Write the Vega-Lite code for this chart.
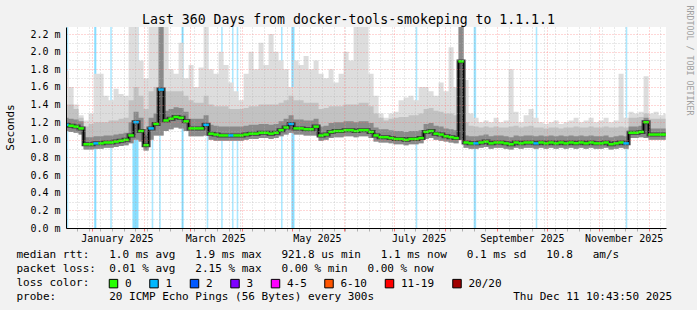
{
"$schema":"https://vega.github.io/schema/vega-lite/v6.json",
"width":600,"height":201,
"autosize":{"type":"none"},
"padding":{"left":66,"top":27,"right":31,"bottom":82},
"background":"#f2f2f2",
"config":{"view":{"stroke":null,"fill":"white"},"font":"DejaVu Sans Mono"},
"datasets":{
"loss":[{"t":"2024-12-17T08:00:00"},{"t":"2025-01-02T18:00:00"},{"t":"2025-01-03T06:00:00"},{"t":"2025-01-12T11:00:00"},{"t":"2025-01-25T16:00:00"},{"t":"2025-01-26T06:00:00"},{"t":"2025-01-26T20:00:00"},{"t":"2025-01-27T10:00:00"},{"t":"2025-01-28T00:00:00"},{"t":"2025-01-28T14:00:00"},{"t":"2025-02-06T08:00:00"},{"t":"2025-02-10T20:00:00"},{"t":"2025-02-24T04:00:00"},{"t":"2025-02-24T16:00:00"},{"t":"2025-03-11T08:00:00"},{"t":"2025-03-20T00:00:00"},{"t":"2025-03-26T12:00:00"},{"t":"2025-03-29T08:00:00"},{"t":"2025-04-24T22:00:00"},{"t":"2025-05-01T00:00:00"},{"t":"2025-05-01T14:00:00"},{"t":"2025-05-02T04:00:00"},{"t":"2025-07-14T18:00:00"},{"t":"2025-08-18T12:00:00"},{"t":"2025-08-19T02:00:00"},{"t":"2025-09-24T18:00:00"},{"t":"2025-11-17T18:00:00"}],
"smoke":[
{"t":"2024-12-16T12:00:00","lo":1.1,"m":1.17,"b":1.25,"c":1.4,"hi":1.78,"loss":"1"},
{"t":"2024-12-19T12:00:00","lo":1.09,"m":1.16,"b":1.24,"c":1.4,"hi":1.6,"loss":"0"},
{"t":"2024-12-22T12:00:00","lo":1.08,"m":1.15,"b":1.23,"c":1.35,"hi":1.4,"loss":"0"},
{"t":"2024-12-25T12:00:00","lo":1.06,"m":1.13,"b":1.21,"c":1.25,"hi":1.28,"loss":"0"},
{"t":"2024-12-28T12:00:00","lo":0.89,"m":0.95,"b":1.03,"c":1.15,"hi":1.22,"loss":"0"},
{"t":"2024-12-31T12:00:00","lo":0.89,"m":0.95,"b":1.03,"c":1.18,"hi":1.3,"loss":"0"},
{"t":"2025-01-03T12:00:00","lo":0.9,"m":0.96,"b":1.04,"c":1.2,"hi":1.75,"loss":"1"},
{"t":"2025-01-06T12:00:00","lo":0.9,"m":0.96,"b":1.04,"c":1.2,"hi":1.75,"loss":"0"},
{"t":"2025-01-09T12:00:00","lo":0.91,"m":0.97,"b":1.05,"c":1.2,"hi":1.5,"loss":"0"},
{"t":"2025-01-12T12:00:00","lo":0.91,"m":0.97,"b":1.05,"c":1.22,"hi":1.45,"loss":"0"},
{"t":"2025-01-15T12:00:00","lo":0.92,"m":0.98,"b":1.06,"c":1.22,"hi":1.58,"loss":"0"},
{"t":"2025-01-18T12:00:00","lo":0.93,"m":0.99,"b":1.07,"c":1.24,"hi":1.52,"loss":"0"},
{"t":"2025-01-21T12:00:00","lo":0.94,"m":1.0,"b":1.08,"c":1.25,"hi":1.5,"loss":"0"},
{"t":"2025-01-24T12:00:00","lo":0.96,"m":1.05,"b":1.2,"c":1.45,"hi":2.28,"loss":"0"},
{"t":"2025-01-27T12:00:00","lo":1.0,"m":1.2,"b":1.32,"c":1.6,"hi":2.28,"loss":"1"},
{"t":"2025-01-30T12:00:00","lo":0.98,"m":1.1,"b":1.25,"c":1.5,"hi":1.9,"loss":"0"},
{"t":"2025-02-02T12:00:00","lo":0.88,"m":0.94,"b":1.05,"c":1.35,"hi":1.7,"loss":"0"},
{"t":"2025-02-05T12:00:00","lo":1.0,"m":1.13,"b":1.25,"c":1.55,"hi":2.28,"loss":"1"},
{"t":"2025-02-08T12:00:00","lo":1.05,"m":1.18,"b":1.3,"c":1.6,"hi":2.28,"loss":"0"},
{"t":"2025-02-11T12:00:00","lo":1.05,"m":1.57,"b":2.28,"c":2.28,"hi":2.28,"loss":"1"},
{"t":"2025-02-14T12:00:00","lo":1.1,"m":1.22,"b":1.33,"c":1.55,"hi":2.28,"loss":"0"},
{"t":"2025-02-17T12:00:00","lo":1.12,"m":1.24,"b":1.35,"c":1.55,"hi":1.8,"loss":"0"},
{"t":"2025-02-20T12:00:00","lo":1.14,"m":1.26,"b":1.37,"c":1.55,"hi":1.75,"loss":"0"},
{"t":"2025-02-23T12:00:00","lo":1.13,"m":1.25,"b":1.36,"c":1.55,"hi":2.1,"loss":"0"},
{"t":"2025-02-26T12:00:00","lo":1.1,"m":1.21,"b":1.32,"c":1.5,"hi":1.7,"loss":"0"},
{"t":"2025-03-01T12:00:00","lo":1.04,"m":1.13,"b":1.24,"c":1.45,"hi":1.85,"loss":"0"},
{"t":"2025-03-04T12:00:00","lo":1.04,"m":1.13,"b":1.24,"c":1.42,"hi":1.6,"loss":"0"},
{"t":"2025-03-07T12:00:00","lo":1.04,"m":1.13,"b":1.24,"c":1.42,"hi":1.82,"loss":"0"},
{"t":"2025-03-10T12:00:00","lo":1.05,"m":1.17,"b":1.28,"c":1.5,"hi":2.28,"loss":"1"},
{"t":"2025-03-13T12:00:00","lo":1.0,"m":1.07,"b":1.17,"c":1.4,"hi":1.8,"loss":"0"},
{"t":"2025-03-16T12:00:00","lo":0.99,"m":1.06,"b":1.16,"c":1.38,"hi":1.75,"loss":"0"},
{"t":"2025-03-19T12:00:00","lo":0.99,"m":1.05,"b":1.15,"c":1.38,"hi":2.0,"loss":"0"},
{"t":"2025-03-22T12:00:00","lo":0.99,"m":1.05,"b":1.15,"c":1.38,"hi":1.85,"loss":"0"},
{"t":"2025-03-25T12:00:00","lo":0.99,"m":1.05,"b":1.15,"c":1.35,"hi":1.65,"loss":"1"},
{"t":"2025-03-28T12:00:00","lo":0.99,"m":1.05,"b":1.15,"c":1.35,"hi":1.55,"loss":"0"},
{"t":"2025-03-31T12:00:00","lo":0.99,"m":1.05,"b":1.15,"c":1.35,"hi":1.45,"loss":"0"},
{"t":"2025-04-03T12:00:00","lo":1.0,"m":1.06,"b":1.16,"c":1.36,"hi":1.75,"loss":"0"},
{"t":"2025-04-06T12:00:00","lo":1.01,"m":1.07,"b":1.17,"c":1.38,"hi":2.0,"loss":"0"},
{"t":"2025-04-09T12:00:00","lo":1.01,"m":1.07,"b":1.17,"c":1.38,"hi":1.8,"loss":"0"},
{"t":"2025-04-12T12:00:00","lo":1.02,"m":1.08,"b":1.18,"c":1.4,"hi":2.1,"loss":"0"},
{"t":"2025-04-15T12:00:00","lo":1.02,"m":1.08,"b":1.18,"c":1.4,"hi":1.85,"loss":"0"},
{"t":"2025-04-18T12:00:00","lo":1.01,"m":1.07,"b":1.17,"c":1.4,"hi":2.2,"loss":"0"},
{"t":"2025-04-21T12:00:00","lo":1.02,"m":1.08,"b":1.18,"c":1.4,"hi":2.0,"loss":"0"},
{"t":"2025-04-24T12:00:00","lo":1.04,"m":1.11,"b":1.21,"c":1.42,"hi":1.9,"loss":"0"},
{"t":"2025-04-27T12:00:00","lo":1.06,"m":1.14,"b":1.24,"c":1.45,"hi":1.8,"loss":"0"},
{"t":"2025-04-30T12:00:00","lo":1.08,"m":1.18,"b":1.28,"c":1.5,"hi":1.6,"loss":"1"},
{"t":"2025-05-03T12:00:00","lo":1.06,"m":1.13,"b":1.23,"c":1.45,"hi":1.9,"loss":"0"},
{"t":"2025-05-06T12:00:00","lo":1.06,"m":1.13,"b":1.23,"c":1.45,"hi":1.85,"loss":"0"},
{"t":"2025-05-09T12:00:00","lo":1.05,"m":1.12,"b":1.22,"c":1.42,"hi":1.95,"loss":"0"},
{"t":"2025-05-12T12:00:00","lo":1.05,"m":1.12,"b":1.22,"c":1.42,"hi":1.8,"loss":"0"},
{"t":"2025-05-15T12:00:00","lo":1.05,"m":1.15,"b":1.24,"c":1.42,"hi":1.9,"loss":"0"},
{"t":"2025-05-18T12:00:00","lo":0.99,"m":1.05,"b":1.15,"c":1.35,"hi":1.75,"loss":"0"},
{"t":"2025-05-21T12:00:00","lo":1.0,"m":1.06,"b":1.16,"c":1.36,"hi":1.7,"loss":"0"},
{"t":"2025-05-24T12:00:00","lo":1.02,"m":1.09,"b":1.19,"c":1.38,"hi":1.8,"loss":"0"},
{"t":"2025-05-27T12:00:00","lo":1.03,"m":1.1,"b":1.2,"c":1.38,"hi":1.65,"loss":"0"},
{"t":"2025-05-30T12:00:00","lo":1.03,"m":1.1,"b":1.2,"c":1.38,"hi":1.75,"loss":"0"},
{"t":"2025-06-02T12:00:00","lo":1.04,"m":1.11,"b":1.21,"c":1.4,"hi":2.0,"loss":"0"},
{"t":"2025-06-05T12:00:00","lo":1.04,"m":1.11,"b":1.21,"c":1.4,"hi":1.9,"loss":"0"},
{"t":"2025-06-08T12:00:00","lo":1.03,"m":1.1,"b":1.2,"c":1.4,"hi":2.28,"loss":"0"},
{"t":"2025-06-11T12:00:00","lo":1.04,"m":1.11,"b":1.21,"c":1.42,"hi":2.28,"loss":"0"},
{"t":"2025-06-14T12:00:00","lo":1.04,"m":1.11,"b":1.21,"c":1.42,"hi":2.28,"loss":"0"},
{"t":"2025-06-17T12:00:00","lo":1.02,"m":1.09,"b":1.19,"c":1.38,"hi":1.75,"loss":"0"},
{"t":"2025-06-20T12:00:00","lo":0.98,"m":1.05,"b":1.14,"c":1.3,"hi":1.5,"loss":"0"},
{"t":"2025-06-23T12:00:00","lo":0.97,"m":1.03,"b":1.12,"c":1.25,"hi":1.3,"loss":"0"},
{"t":"2025-06-26T12:00:00","lo":0.97,"m":1.03,"b":1.12,"c":1.22,"hi":1.25,"loss":"0"},
{"t":"2025-06-29T12:00:00","lo":0.96,"m":1.02,"b":1.11,"c":1.24,"hi":1.3,"loss":"0"},
{"t":"2025-07-02T12:00:00","lo":0.95,"m":1.01,"b":1.1,"c":1.25,"hi":1.32,"loss":"0"},
{"t":"2025-07-05T12:00:00","lo":0.95,"m":1.01,"b":1.1,"c":1.26,"hi":1.45,"loss":"0"},
{"t":"2025-07-08T12:00:00","lo":0.94,"m":1.0,"b":1.09,"c":1.26,"hi":1.48,"loss":"0"},
{"t":"2025-07-11T12:00:00","lo":0.95,"m":1.01,"b":1.1,"c":1.28,"hi":1.5,"loss":"0"},
{"t":"2025-07-14T12:00:00","lo":0.95,"m":1.01,"b":1.1,"c":1.28,"hi":1.45,"loss":"0"},
{"t":"2025-07-17T12:00:00","lo":0.96,"m":1.02,"b":1.11,"c":1.3,"hi":1.6,"loss":"0"},
{"t":"2025-07-20T12:00:00","lo":1.01,"m":1.09,"b":1.18,"c":1.35,"hi":1.6,"loss":"0"},
{"t":"2025-07-23T12:00:00","lo":1.02,"m":1.1,"b":1.19,"c":1.36,"hi":1.55,"loss":"0"},
{"t":"2025-07-26T12:00:00","lo":1.0,"m":1.07,"b":1.16,"c":1.33,"hi":1.5,"loss":"0"},
{"t":"2025-07-29T12:00:00","lo":0.99,"m":1.06,"b":1.15,"c":1.32,"hi":1.65,"loss":"0"},
{"t":"2025-08-01T12:00:00","lo":0.98,"m":1.04,"b":1.13,"c":1.3,"hi":1.55,"loss":"0"},
{"t":"2025-08-04T12:00:00","lo":0.97,"m":1.03,"b":1.12,"c":1.3,"hi":2.05,"loss":"0"},
{"t":"2025-08-07T12:00:00","lo":0.96,"m":1.02,"b":1.11,"c":1.28,"hi":1.6,"loss":"0"},
{"t":"2025-08-10T12:00:00","lo":1.0,"m":1.89,"b":2.28,"c":2.28,"hi":2.28,"loss":"0"},
{"t":"2025-08-13T12:00:00","lo":0.91,"m":0.97,"b":1.05,"c":1.2,"hi":1.68,"loss":"0"},
{"t":"2025-08-16T12:00:00","lo":0.9,"m":0.96,"b":1.04,"c":1.16,"hi":1.3,"loss":"0"},
{"t":"2025-08-19T12:00:00","lo":0.9,"m":0.96,"b":1.04,"c":1.15,"hi":1.25,"loss":"1"},
{"t":"2025-08-22T12:00:00","lo":0.91,"m":0.97,"b":1.05,"c":1.14,"hi":1.2,"loss":"0"},
{"t":"2025-08-25T12:00:00","lo":0.92,"m":0.98,"b":1.06,"c":1.15,"hi":1.22,"loss":"0"},
{"t":"2025-08-28T12:00:00","lo":0.9,"m":0.96,"b":1.04,"c":1.14,"hi":1.2,"loss":"0"},
{"t":"2025-08-31T12:00:00","lo":0.91,"m":0.97,"b":1.05,"c":1.15,"hi":1.25,"loss":"0"},
{"t":"2025-09-03T12:00:00","lo":0.91,"m":0.97,"b":1.05,"c":1.14,"hi":1.2,"loss":"0"},
{"t":"2025-09-06T12:00:00","lo":0.9,"m":0.96,"b":1.04,"c":1.14,"hi":1.22,"loss":"0"},
{"t":"2025-09-09T12:00:00","lo":0.89,"m":0.95,"b":1.03,"c":1.15,"hi":1.8,"loss":"0"},
{"t":"2025-09-12T12:00:00","lo":0.91,"m":0.97,"b":1.05,"c":1.16,"hi":1.32,"loss":"0"},
{"t":"2025-09-15T12:00:00","lo":0.9,"m":0.96,"b":1.04,"c":1.14,"hi":1.2,"loss":"0"},
{"t":"2025-09-18T12:00:00","lo":0.91,"m":0.97,"b":1.05,"c":1.15,"hi":1.28,"loss":"0"},
{"t":"2025-09-21T12:00:00","lo":0.91,"m":0.97,"b":1.05,"c":1.16,"hi":1.35,"loss":"0"},
{"t":"2025-09-24T12:00:00","lo":0.9,"m":0.96,"b":1.04,"c":1.14,"hi":1.25,"loss":"1"},
{"t":"2025-09-27T12:00:00","lo":0.91,"m":0.97,"b":1.05,"c":1.14,"hi":1.2,"loss":"0"},
{"t":"2025-09-30T12:00:00","lo":0.9,"m":0.96,"b":1.04,"c":1.13,"hi":1.18,"loss":"0"},
{"t":"2025-10-03T12:00:00","lo":0.91,"m":0.97,"b":1.05,"c":1.14,"hi":1.2,"loss":"0"},
{"t":"2025-10-06T12:00:00","lo":0.9,"m":0.96,"b":1.04,"c":1.14,"hi":1.22,"loss":"0"},
{"t":"2025-10-09T12:00:00","lo":0.91,"m":0.97,"b":1.05,"c":1.13,"hi":1.18,"loss":"0"},
{"t":"2025-10-12T12:00:00","lo":0.9,"m":0.96,"b":1.04,"c":1.14,"hi":1.2,"loss":"0"},
{"t":"2025-10-15T12:00:00","lo":0.91,"m":0.97,"b":1.05,"c":1.14,"hi":1.22,"loss":"0"},
{"t":"2025-10-18T12:00:00","lo":0.9,"m":0.96,"b":1.04,"c":1.15,"hi":1.25,"loss":"0"},
{"t":"2025-10-21T12:00:00","lo":0.91,"m":0.97,"b":1.05,"c":1.14,"hi":1.2,"loss":"0"},
{"t":"2025-10-24T12:00:00","lo":0.9,"m":0.96,"b":1.04,"c":1.14,"hi":1.22,"loss":"0"},
{"t":"2025-10-27T12:00:00","lo":0.91,"m":0.97,"b":1.05,"c":1.15,"hi":1.25,"loss":"0"},
{"t":"2025-10-30T12:00:00","lo":0.9,"m":0.96,"b":1.04,"c":1.14,"hi":1.2,"loss":"0"},
{"t":"2025-11-02T12:00:00","lo":0.9,"m":0.96,"b":1.04,"c":1.14,"hi":1.22,"loss":"0"},
{"t":"2025-11-05T12:00:00","lo":0.91,"m":0.97,"b":1.05,"c":1.15,"hi":1.25,"loss":"0"},
{"t":"2025-11-08T12:00:00","lo":0.89,"m":0.95,"b":1.03,"c":1.14,"hi":1.2,"loss":"0"},
{"t":"2025-11-11T12:00:00","lo":0.9,"m":0.96,"b":1.04,"c":1.14,"hi":1.22,"loss":"0"},
{"t":"2025-11-14T12:00:00","lo":0.91,"m":0.97,"b":1.05,"c":1.15,"hi":1.75,"loss":"0"},
{"t":"2025-11-17T12:00:00","lo":0.9,"m":0.96,"b":1.04,"c":1.14,"hi":1.25,"loss":"1"},
{"t":"2025-11-20T12:00:00","lo":1.02,"m":1.08,"b":1.15,"c":1.25,"hi":1.32,"loss":"0"},
{"t":"2025-11-23T12:00:00","lo":1.02,"m":1.08,"b":1.15,"c":1.25,"hi":1.3,"loss":"0"},
{"t":"2025-11-26T12:00:00","lo":1.03,"m":1.09,"b":1.16,"c":1.26,"hi":1.32,"loss":"0"},
{"t":"2025-11-29T12:00:00","lo":1.02,"m":1.2,"b":1.25,"c":1.3,"hi":1.72,"loss":"0"},
{"t":"2025-12-02T12:00:00","lo":1.0,"m":1.06,"b":1.13,"c":1.24,"hi":1.3,"loss":"0"},
{"t":"2025-12-05T12:00:00","lo":1.0,"m":1.06,"b":1.13,"c":1.24,"hi":1.32,"loss":"0"},
{"t":"2025-12-08T12:00:00","lo":1.0,"m":1.06,"b":1.13,"c":1.24,"hi":1.28,"loss":"0"},
{"t":"2025-12-11T06:00:00","lo":1.0,"m":1.06,"b":1.13,"c":1.24,"hi":1.3,"loss":"0"}
]},
"layer":[
{"encoding":{"x":{"field":"t","type":"temporal",
 "scale":{"domain":[{"year":2024,"month":12,"date":16,"hours":10,"minutes":43,"seconds":50},{"year":2025,"month":12,"date":11,"hours":10,"minutes":43,"seconds":50}]},
 "axis":{"title":["median rtt:\u00a0\u00a0\u00a01.0 ms avg\u00a0\u00a0\u00a01.9 ms max\u00a0\u00a0\u00a0921.8 us min\u00a0\u00a0\u00a01.1 ms now\u00a0\u00a0\u00a00.1 ms sd\u00a0\u00a0\u00a010.8\u00a0\u00a0\u00a0am/s","packet loss:\u00a0\u00a00.01 % avg\u00a0\u00a0\u00a02.15 % max\u00a0\u00a0\u00a00.00 % min\u00a0\u00a0\u00a00.00 % now","loss color:","probe:\u00a0\u00a0\u00a0\u00a0\u00a0\u00a0\u00a0\u00a020 ICMP Echo Pings (56 Bytes) every 300s\u00a0\u00a0\u00a0\u00a0\u00a0\u00a0\u00a0\u00a0\u00a0\u00a0\u00a0\u00a0\u00a0\u00a0\u00a0\u00a0\u00a0\u00a0\u00a0\u00a0\u00a0Thu Dec 11 10:43:50 2025"],
  "tickCount":500,
  "values":[{"year":2024,"month":12,"date":23},{"year":2024,"month":12,"date":30},{"year":2025,"month":1,"date":6},{"year":2025,"month":1,"date":13},{"year":2025,"month":1,"date":20},{"year":2025,"month":1,"date":27},{"year":2025,"month":2,"date":3},{"year":2025,"month":2,"date":10},{"year":2025,"month":2,"date":17},{"year":2025,"month":2,"date":24},{"year":2025,"month":3,"date":3},{"year":2025,"month":3,"date":10},{"year":2025,"month":3,"date":17},{"year":2025,"month":3,"date":24},{"year":2025,"month":3,"date":31},{"year":2025,"month":4,"date":7},{"year":2025,"month":4,"date":14},{"year":2025,"month":4,"date":21},{"year":2025,"month":4,"date":28},{"year":2025,"month":5,"date":5},{"year":2025,"month":5,"date":12},{"year":2025,"month":5,"date":19},{"year":2025,"month":5,"date":26},{"year":2025,"month":6,"date":2},{"year":2025,"month":6,"date":9},{"year":2025,"month":6,"date":16},{"year":2025,"month":6,"date":23},{"year":2025,"month":6,"date":30},{"year":2025,"month":7,"date":7},{"year":2025,"month":7,"date":14},{"year":2025,"month":7,"date":21},{"year":2025,"month":7,"date":28},{"year":2025,"month":8,"date":4},{"year":2025,"month":8,"date":11},{"year":2025,"month":8,"date":18},{"year":2025,"month":8,"date":25},{"year":2025,"month":9,"date":1},{"year":2025,"month":9,"date":8},{"year":2025,"month":9,"date":15},{"year":2025,"month":9,"date":22},{"year":2025,"month":9,"date":29},{"year":2025,"month":10,"date":6},{"year":2025,"month":10,"date":13},{"year":2025,"month":10,"date":20},{"year":2025,"month":10,"date":27},{"year":2025,"month":11,"date":3},{"year":2025,"month":11,"date":10},{"year":2025,"month":11,"date":17},{"year":2025,"month":11,"date":24},{"year":2025,"month":12,"date":1},{"year":2025,"month":12,"date":8},
   {"year":2025,"month":1,"date":1},{"year":2025,"month":2,"date":1},{"year":2025,"month":3,"date":1},{"year":2025,"month":4,"date":1},{"year":2025,"month":5,"date":1},{"year":2025,"month":6,"date":1},{"year":2025,"month":7,"date":1},{"year":2025,"month":8,"date":1},{"year":2025,"month":10,"date":1},{"year":2025,"month":11,"date":1},
   {"year":2025,"month":1,"date":16},{"year":2025,"month":3,"date":16},{"year":2025,"month":5,"date":16},{"year":2025,"month":7,"date":16},{"year":2025,"month":9,"date":16},{"year":2025,"month":11,"date":16}],
  "labelExpr":"date(datum.value)==16 && month(datum.value)%2==0 ? timeFormat(datum.value,'%B %Y') : ''",
  "gridColor":{"condition":{"test":"date(datum.value)==1","value":"#ff7070"},"value":"#b0b0b0"},
  "gridOpacity":{"condition":{"test":"date(datum.value)==16 && month(datum.value)%2==0","value":0},"value":0.55},
  "gridDash":[1,2],
  "tickColor":{"condition":{"test":"date(datum.value)==1","value":"#ff7070"},"value":"#b0b0b0"},
  "tickOpacity":{"condition":{"test":"date(datum.value)==16 && month(datum.value)%2==0","value":0},"value":1},
  "tickSize":3,
  "labelFont":"DejaVu Sans Mono","labelFontSize":10,"labelColor":"black","labelPadding":2,"labelOverlap":false,"labelFlush":false,"labelBound":false,
  "domainColor":"black",
  "titleFont":"DejaVu Sans Mono","titleFontSize":11,"titleFontWeight":"normal","titleColor":"black","titleX":-50,"titleY":29,"titleAlign":"left","titleAnchor":"start","titleBaseline":"alphabetic","titleLineHeight":14,
  "zindex":1}}},
 "layer":[
  {"data":{"name":"loss"},"mark":{"type":"rule","color":"#00b8ff","opacity":0.33,"strokeWidth":1.6},"encoding":{}},
  {"data":{"name":"smoke"},"mark":{"type":"area","interpolate":"step","color":"#dddddd","clip":true},
   "encoding":{"y":{"field":"lo","type":"quantitative","title":"Seconds",
     "scale":{"domain":[0,2.28],"nice":false,"zero":true},
     "axis":{"title":"Seconds","tickCount":500,"values":[0,0.1,0.2,0.3,0.4,0.5,0.6,0.7,0.8,0.9,1.0,1.1,1.2,1.3,1.4,1.5,1.6,1.7,1.8,1.9,2.0,2.1,2.2],
      "labelExpr":"round(datum.value*10)%2==0 ? format(datum.value,'.1f')+' m' : ''",
      "gridColor":{"condition":{"test":"round(datum.value*10)%2==0","value":"#ff7070"},"value":"#b0b0b0"},
      "gridDash":[1,2],"gridOpacity":0.55,"ticks":false,"labelPadding":6,
      "labelFont":"DejaVu Sans Mono","labelFontSize":10,"labelColor":"black","labelOverlap":false,"labelBound":false,"labelFlush":false,
      "domainColor":"black",
      "titleFont":"DejaVu Sans Mono","titleFontSize":11,"titleFontWeight":"normal","titleColor":"black",
      "titleX":-56,"titleY":100,"titleAngle":-90,"titleAlign":"center","titleBaseline":"middle","zindex":1}},
    "y2":{"field":"hi"}}},
  {"data":{"name":"smoke"},"mark":{"type":"area","interpolate":"step","color":"#c2c2c2","clip":true},
   "encoding":{"y":{"field":"lo","type":"quantitative","title":"Seconds"},"y2":{"field":"c"}}},
  {"data":{"name":"smoke"},"mark":{"type":"area","interpolate":"step","color":"#8a8a8a","clip":true},
   "encoding":{"y":{"field":"lo","type":"quantitative","title":"Seconds"},"y2":{"field":"b"}}},
  {"data":{"name":"smoke"},"mark":{"type":"line","interpolate":"step","color":"#3c3c3c","strokeWidth":4,"clip":true},
   "encoding":{"y":{"field":"m","type":"quantitative","title":"Seconds"}}},
  {"data":{"name":"smoke"},"mark":{"type":"line","interpolate":"step","color":"black","strokeWidth":1,"clip":true},
   "encoding":{"y":{"field":"m","type":"quantitative","title":"Seconds"}}},
  {"data":{"name":"smoke"},"mark":{"type":"tick","orient":"horizontal","size":5.5,"thickness":2.5,"opacity":1,"clip":true},
   "encoding":{"y":{"field":"m","type":"quantitative","title":"Seconds"},
    "color":{"field":"loss","type":"nominal",
     "scale":{"domain":["0","1","2","3","4-5","6-10","11-19","20/20"],"range":["#26ff00","#00b8ff","#0059ff","#7e00ff","#ff00ff","#ff5500","#ff0000","#a10000"]},
     "legend":{"orient":"none","legendX":42,"legendY":251,"direction":"horizontal","title":null,
      "labelFont":"DejaVu Sans Mono","labelFontSize":11,"labelColor":"black","labelOffset":6,"columnPadding":15.5,"padding":0,
      "symbolType":"square","symbolSize":72,"symbolStrokeColor":"black","symbolStrokeWidth":1,"symbolOpacity":1}}}},
  {"mark":{"type":"point","shape":"triangle-right","filled":true,"color":"#8b1010","size":30,"opacity":1},
   "encoding":{"x":{"datum":{"year":2025,"month":12,"date":13,"hours":20},"type":"temporal"},"y":{"datum":0,"type":"quantitative","title":"Seconds"}}}
 ]},
{"mark":{"type":"point","shape":"triangle-up","filled":true,"color":"#8b1010","size":30,"opacity":1},
 "encoding":{"x":{"datum":{"year":2024,"month":12,"date":16,"hours":10,"minutes":43,"seconds":50},"type":"temporal",
   "axis":{"orient":"top","title":"Last 360 Days from docker-tools-smokeping to 1.1.1.1","labels":false,"ticks":false,"domain":false,"grid":false,
    "titleFont":"DejaVu Sans Mono","titleFontSize":13.2,"titleFontWeight":"normal","titleColor":"black","titleX":282,"titleY":-3.5,"titleAlign":"center","titleAnchor":"middle","titleBaseline":"alphabetic","titleAngle":0}},
  "y":{"datum":2.32,"type":"quantitative","axis":{"orient":"right","title":"RRDTOOL / TOBI OETIKER","labels":false,"ticks":false,"domain":false,"grid":false,
   "titleFont":"DejaVu Sans Mono","titleFontSize":8.3,"titleFontWeight":"normal","titleColor":"#a0a0a0","titleAngle":90,"titleX":22,"titleY":33,"titleAlign":"center","titleBaseline":"middle"}}}}
],
"resolve":{"axis":{"x":"independent","y":"independent"}}
}
